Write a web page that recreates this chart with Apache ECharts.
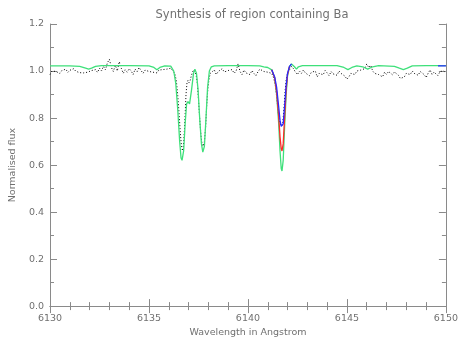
<!DOCTYPE html>
<html><head><meta charset="utf-8">
<script src="https://cdn.jsdelivr.net/npm/echarts@6/dist/echarts.min.js"></script>
<style>html,body{margin:0;padding:0;background:#fff}#c{width:461px;height:343px}</style>
</head><body><div id="c"></div>
<script>
const titleText = "Synthesis of region containing Ba";
const xLabel = "Wavelength in Angstrom";
const yLabel = "Normalised flux";
const xTicks = [6130, 6135, 6140, 6145, 6150];
const yTicks = [0.0, 0.2, 0.4, 0.6, 0.8, 1.0, 1.2];

// observed spectrum (dotted black)
const obsWave = [
6130.0,6130.1,6130.2,6130.3,6130.4,6130.5,6130.6,6130.7,6130.8,6130.9,
6131.0,6131.1,6131.2,6131.3,6131.4,6131.5,6131.6,6131.7,6131.8,6131.9,
6132.0,6132.1,6132.2,6132.3,6132.4,6132.5,6132.6,6132.7,6132.8,6132.9,
6133.0,6133.1,6133.2,6133.3,6133.4,6133.5,6133.6,6133.7,6133.8,6133.9,
6134.0,6134.1,6134.2,6134.3,6134.4,6134.5,6134.6,6134.7,6134.8,6134.9,
6135.0,6135.1,6135.2,6135.3,6135.4,6135.5,6135.6,6135.7,6135.8,6135.9,
6136.0,6136.1,6136.2,
6136.3,6136.38,6136.45,6136.52,6136.58,6136.64,6136.7,6136.76,6136.82,6136.87,
6136.92,6136.97,6137.02,6137.08,6137.14,6137.2,6137.26,6137.32,6137.38,6137.44,
6137.5,6137.56,6137.62,6137.68,6137.74,6137.8,6137.86,6137.92,6137.98,6138.04,
6138.1,6138.2,6138.3,6138.4,6138.5,6138.6,6138.7,6138.8,6138.9,6139.0,
6139.1,6139.2,6139.3,6139.4,6139.5,6139.6,6139.7,6139.8,6139.9,6140.0,
6140.1,6140.2,6140.3,6140.4,6140.5,6140.6,6140.7,6140.8,6140.9,6141.0,
6141.1,6141.2,
6141.3,6141.38,6141.45,6141.52,6141.58,6141.64,6141.7,6141.76,6141.82,6141.88,
6141.94,6142.0,6142.1,6142.2,6142.3,6142.4,6142.5,6142.6,6142.7,6142.8,
6142.9,6143.0,6143.1,6143.2,6143.3,6143.4,6143.5,6143.6,6143.7,6143.8,
6143.9,6144.0,6144.1,6144.2,6144.3,6144.4,6144.5,6144.6,6144.7,6144.8,
6144.9,6145.0,6145.1,6145.2,6145.3,6145.4,6145.5,6145.6,6145.7,6145.8,
6145.9,6146.0,6146.1,6146.2,6146.3,6146.4,6146.5,6146.6,6146.7,6146.8,
6146.9,6147.0,6147.1,6147.2,6147.3,6147.4,6147.5,6147.6,6147.7,6147.8,
6147.9,6148.0,6148.1,6148.2,6148.3,6148.4,6148.5,6148.6,6148.7,6148.8,
6148.9,6149.0,6149.1,6149.2,6149.3,6149.4,6149.5,6149.6,6149.7,6149.8,
6149.9,6150.0];
const obsFlux = [
0.985,1.000,0.992,0.998,1.005,0.990,1.002,0.996,1.008,0.994,
1.003,0.997,1.010,0.999,1.004,0.993,1.000,0.992,0.988,0.995,
0.990,1.002,0.996,1.006,0.994,1.012,1.000,1.020,1.005,1.035,
1.050,1.015,0.998,1.025,1.000,1.040,1.012,0.990,1.005,0.995,
1.010,1.000,0.985,1.008,0.997,1.015,1.002,0.990,1.004,1.010,
0.998,1.006,0.995,1.000,0.992,1.004,1.010,1.006,1.012,1.008,
1.002,1.012,1.005,
0.990,0.960,0.900,0.820,0.740,0.680,0.660,0.700,0.800,0.900,
0.950,0.960,0.950,0.960,0.980,0.995,1.005,1.000,0.985,0.950,
0.880,0.800,0.730,0.690,0.680,0.700,0.760,0.860,0.930,0.970,
0.990,0.995,1.005,0.985,0.998,0.990,1.010,0.996,0.988,1.002,
0.994,1.006,0.990,1.000,1.030,0.998,0.985,1.004,0.992,0.998,
0.985,1.002,0.990,0.980,0.996,1.008,1.012,0.998,1.005,0.995,
1.000,0.990,
0.970,0.940,0.890,0.830,0.790,0.775,0.765,0.780,0.840,0.920,
0.970,0.990,1.005,1.020,1.010,0.995,0.985,1.000,0.990,1.004,
0.992,0.998,0.980,0.994,0.986,1.000,0.975,0.990,0.996,0.984,
1.002,0.992,0.980,0.998,0.988,0.995,0.982,1.000,0.990,0.985,
0.978,0.965,0.975,0.990,0.995,0.985,1.000,0.992,1.004,0.996,
1.010,1.030,1.015,1.025,1.000,0.990,0.998,0.985,0.992,0.975,
0.995,0.985,0.998,0.990,0.984,0.996,0.990,0.982,0.968,0.960,
0.975,0.990,0.996,0.985,1.000,0.990,0.995,0.982,0.998,0.990,
0.985,0.972,0.990,1.005,0.985,0.995,0.990,0.980,0.998,1.005,
1.000,0.992];

// green synthetic spectrum
const greenWave = [6130.0,6130.5,6131.0,6131.5,6131.8,6131.95,6132.1,6132.3,6132.6,6133.0,
6134.0,6135.0,6135.25,6135.4,6135.55,6135.8,6136.1,6136.25,6136.35,6136.45,
6136.55,6136.62,6136.67,6136.75,6136.83,6136.9,6136.97,6137.05,6137.15,6137.25,
6137.32,6137.4,6137.48,6137.56,6137.65,6137.72,6137.8,6137.88,6137.96,6138.05,
6138.15,6138.3,6139.0,6140.0,6140.6,6140.8,6141.0,6141.2,6141.35,6141.45,
6141.55,6141.62,6141.68,6141.72,6141.78,6141.85,6141.93,6142.0,6142.1,6142.2,
6142.35,6142.45,6142.55,6142.75,6143.5,6144.5,6144.85,6145.05,6145.25,6145.5,
6145.8,6146.05,6146.3,6146.6,6147.4,6147.65,6147.85,6148.05,6148.3,6149.0,6150.0];
const greenFlux = [1.022,1.022,1.022,1.020,1.012,1.008,1.012,1.020,1.023,1.023,
1.023,1.022,1.015,1.005,1.015,1.022,1.021,1.000,0.950,0.840,
0.700,0.630,0.620,0.660,0.780,0.860,0.870,0.860,0.920,0.990,
1.008,0.990,0.920,0.800,0.690,0.655,0.680,0.800,0.930,1.000,
1.018,1.022,1.023,1.023,1.022,1.018,1.015,1.005,0.970,0.900,
0.780,0.660,0.585,0.575,0.620,0.760,0.900,0.980,1.020,1.030,
1.018,1.008,1.018,1.023,1.023,1.023,1.015,1.006,1.015,1.022,
1.018,1.008,1.018,1.023,1.020,1.012,1.006,1.012,1.022,1.023,1.023];

// red synthetic spectrum (Ba line core)
const redWave = [6141.2,6141.35,6141.45,6141.55,6141.62,6141.68,6141.72,
6141.78,6141.85,6141.93,6142.0,6142.1];
const redFlux = [1.005,0.970,0.910,0.810,0.720,0.670,0.660,
0.690,0.800,0.920,0.985,1.020];

// blue synthetic spectrum (Ba line core + right edge)
const blueWave = [6141.2,6141.35,6141.45,6141.55,6141.62,6141.68,6141.72,
6141.78,6141.85,6141.93,6142.0,6142.1,6142.2,
6146.0,6149.6,6150.0];
const blueFlux = [1.005,0.975,0.930,0.850,0.790,0.765,0.760,
0.775,0.850,0.940,0.990,1.020,1.030,
null,1.022,1.022];

function pairs(xs, ys){ return xs.map((x,i)=>[x, ys[i]]); }

const axisCol = '#8a8a8a';
const txtCol = '#707070';
const font = 'DejaVu Sans';

const chart = echarts.init(document.getElementById('c'), null, {renderer:'canvas'});
chart.setOption({
  animation:false,
  backgroundColor:'#fff',
  title:{text:titleText, left:247, top:4, textAlign:'center',
    textStyle:{color:txtCol, fontSize:11.5, fontWeight:'normal', fontFamily:font}},
  grid:{left:44, right:11, top:24, bottom:31, show:false},
  xAxis:[{
    type:'value', min:6130, max:6150, interval:5, position:'bottom',
    name:xLabel, nameLocation:'middle', nameGap:21,
    nameTextStyle:{color:txtCol, fontSize:9.5, fontFamily:font},
    axisLine:{lineStyle:{color:axisCol, width:1}},
    axisTick:{inside:true, length:7, lineStyle:{color:axisCol}},
    minorTick:{show:true, splitNumber:5, length:4, lineStyle:{color:axisCol}},
    axisLabel:{color:txtCol, fontSize:9.5, fontFamily:font, margin:7,
      formatter:v=>xTicks.includes(v)?String(v):''},
    splitLine:{show:false}
  },{
    type:'value', min:6130, max:6150, interval:5, position:'top',
    axisLine:{lineStyle:{color:axisCol}},
    axisTick:{inside:true, length:7, lineStyle:{color:axisCol}},
    minorTick:{show:true, splitNumber:5, length:4, lineStyle:{color:axisCol}},
    axisLabel:{show:false}, splitLine:{show:false}
  }],
  yAxis:[{
    type:'value', min:0, max:1.2, interval:0.2, position:'left',
    name:yLabel, nameLocation:'middle', nameGap:29, nameRotate:90,
    nameTextStyle:{color:txtCol, fontSize:9.5, fontFamily:font},
    axisLine:{show:true, lineStyle:{color:axisCol}},
    axisTick:{show:true, inside:true, length:7, lineStyle:{color:axisCol}},
    minorTick:{show:true, splitNumber:2, length:4, lineStyle:{color:axisCol}},
    axisLabel:{color:txtCol, fontSize:9.5, fontFamily:font, margin:6,
      formatter:v=>v.toFixed(1)},
    splitLine:{show:false}
  },{
    type:'value', min:0, max:1.2, interval:0.2, position:'right',
    axisLine:{show:true, lineStyle:{color:axisCol}},
    axisTick:{show:true, inside:true, length:7, lineStyle:{color:axisCol}},
    minorTick:{show:true, splitNumber:2, length:4, lineStyle:{color:axisCol}},
    axisLabel:{show:false}, splitLine:{show:false}
  }],
  series:[
    {type:'line', data:pairs(obsWave, obsFlux), showSymbol:false, z:2,
      lineStyle:{color:'#000', width:1, type:[1,2]}},
    {type:'line', data:pairs(greenWave, greenFlux), showSymbol:false, z:3,
      lineStyle:{color:'#3ee07a', width:1.3}},
    {type:'line', data:pairs(redWave, redFlux), showSymbol:false, z:4,
      lineStyle:{color:'#ff2a2a', width:1.3}},
    {type:'line', data:pairs(blueWave, blueFlux), showSymbol:false, z:5, connectNulls:false,
      lineStyle:{color:'#2a2aff', width:1.3}}
  ]
});
</script></body></html>
